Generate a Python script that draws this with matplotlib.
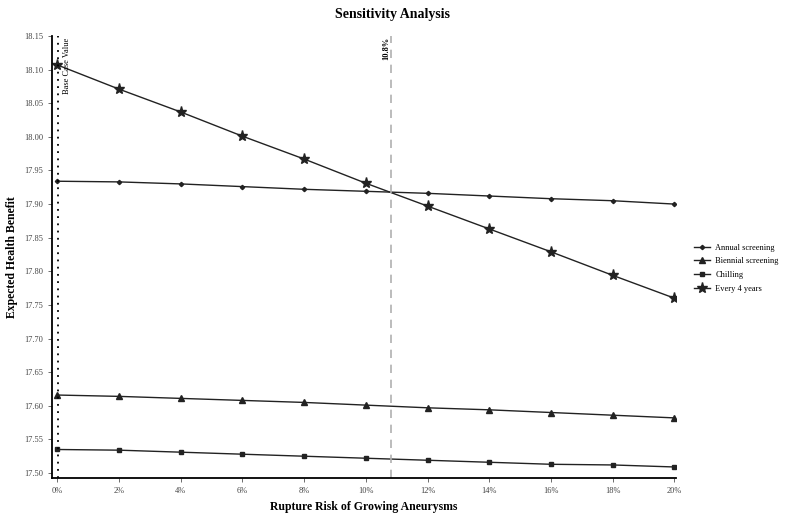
import matplotlib
matplotlib.use("Agg")
import matplotlib.pyplot as plt
import numpy as np

plt.rcParams['font.family'] = ['Liberation Serif', 'DejaVu Serif']

# rupture risk (%)
risk = [0, 2, 4, 6, 8, 10, 12, 14, 16, 18, 20]
x_labels = ["0%", "2%", "4%", "6%", "8%", "10%", "12%", "14%", "16%", "18%", "20%"]

# expected health benefit per strategy
annual = [17.934, 17.933, 17.930, 17.926, 17.922, 17.919, 17.916, 17.912, 17.908, 17.905, 17.900]
biennial = [17.616, 17.614, 17.611, 17.608, 17.605, 17.601, 17.597, 17.594, 17.590, 17.586, 17.582]
chilling = [17.535, 17.534, 17.531, 17.528, 17.525, 17.522, 17.519, 17.516, 17.513, 17.512, 17.509]
every4 = [18.107, 18.071, 18.037, 18.001, 17.967, 17.931, 17.897, 17.863, 17.829, 17.794, 17.760]

y_ticks = [17.50, 17.55, 17.60, 17.65, 17.70, 17.75, 17.80, 17.85, 17.90, 17.95, 18.00, 18.05, 18.10, 18.15]
threshold = 10.8

fig = plt.figure(figsize=(7.85, 5.14), dpi=100)
ax = fig.add_axes([52 / 785, 36 / 514, 624 / 785, 442 / 514])

lc = "#222222"
ax.plot(risk, annual, color=lc, lw=1, marker="D", ms=2.2, label="Annual screening")
ax.plot(risk, biennial, color=lc, lw=1, marker="^", ms=5, label="Biennial screening")
ax.plot(risk, chilling, color=lc, lw=1, marker="s", ms=3.5, label="Chilling")
ax.plot(risk, every4, color=lc, lw=1, marker="*", ms=8, label="Every 4 years")

# base case and threshold lines
ax.axvline(0.03, color="black", ls=(0, (1, 3)), lw=1.3)
ax.axvline(threshold, color="#b0b0b0", ls=(0, (5, 4)), lw=1.2)
ax.text(0.3, 18.148, "Base Case Value", rotation=90, va="top", ha="center", fontsize=6)
ax.text(threshold - 0.15, 18.148, f"{threshold}%", rotation=90, va="top", ha="center",
        fontsize=6, fontweight="bold")

ax.set_xlim(-0.17, 20.05)
ax.set_ylim(17.4926, 18.15)
ax.set_xticks(risk)
ax.set_xticklabels(x_labels)
ax.set_yticks(y_ticks)
ax.set_yticklabels([f"{v:.2f}" for v in y_ticks])
ax.tick_params(labelsize=6, length=3, width=0.6, colors="#555555", labelcolor="#444444")

for s in ["top", "right"]:
    ax.spines[s].set_visible(False)
ax.spines["left"].set_linewidth(1.3)
ax.spines["bottom"].set_linewidth(1.3)

ax.set_xlabel("Rupture Risk of Growing Aneurysms", fontsize=8.5, fontweight="bold", labelpad=4)
ax.set_ylabel("Expected Health Benefit", fontsize=8.5, fontweight="bold", labelpad=4)
fig.text(0.5, 0.972, "Sensitivity Analysis", ha="center", va="center", fontsize=10, fontweight="bold")

fig.legend(loc="upper left", bbox_to_anchor=(686 / 785, 1 - 236 / 514), frameon=False,
           fontsize=6, handlelength=2, labelspacing=0.7, handletextpad=0.6)

fig.savefig("out.png", dpi=100)
